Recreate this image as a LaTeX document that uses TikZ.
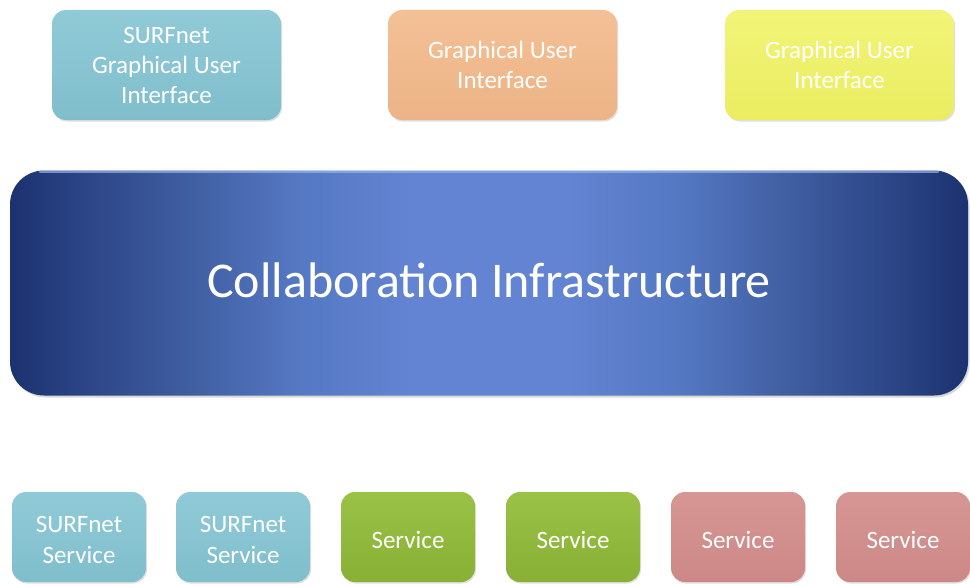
\documentclass[tikz,border=0pt]{standalone}
\usepackage{fontspec}
\setmainfont{Carlito}
\usetikzlibrary{shadows}
\definecolor{tealtop}{RGB}{144,202,215}
\definecolor{tealbot}{RGB}{128,190,204}
\definecolor{orangetop}{RGB}{244,192,150}
\definecolor{orangebot}{RGB}{236,180,134}
\definecolor{yellowtop}{RGB}{242,244,120}
\definecolor{yellowbot}{RGB}{234,237,96}
\definecolor{greentop}{RGB}{154,194,70}
\definecolor{greenbot}{RGB}{136,176,52}
\definecolor{redtop}{RGB}{214,150,148}
\definecolor{redbot}{RGB}{204,136,134}
\definecolor{bluedark}{RGB}{28,50,112}
\definecolor{bluemidA}{RGB}{46,72,137}
\definecolor{bluemidB}{RGB}{66,97,165}
\definecolor{bluemidC}{RGB}{85,120,195}
\definecolor{bluelight}{RGB}{98,132,210}
\definecolor{bluehigh}{RGB}{150,180,238}
\pgfdeclarehorizontalshading{infrashade}{100bp}{color(0bp)=(bluedark); color(25bp)=(bluedark); color(29.5bp)=(bluemidA); color(35bp)=(bluemidB); color(40bp)=(bluemidC); color(46bp)=(bluelight); color(54bp)=(bluelight); color(60bp)=(bluemidC); color(65bp)=(bluemidB); color(70.5bp)=(bluemidA); color(75bp)=(bluedark); color(100bp)=(bluedark)}
\tikzset{
  boxbase/.style={rectangle, rounded corners=14pt,
    drop shadow={shadow xshift=1pt, shadow yshift=-1.5pt, opacity=0.25}},
  topbox/.style={boxbase, minimum width=229pt, minimum height=110pt},
  botbox/.style={boxbase, minimum width=134pt, minimum height=90pt},
  lbl/.style={align=center, text=white, inner sep=0pt, font=\fontsize{25}{30}\selectfont},
  botlbl/.style={lbl, font=\fontsize{25}{31}\selectfont},
  biglbl/.style={lbl, font=\fontsize{50}{56}\selectfont},
  tealbox/.style={top color=tealtop, bottom color=tealbot},
  orangebox/.style={top color=orangetop, bottom color=orangebot},
  yellowbox/.style={top color=yellowtop, bottom color=yellowbot},
  greenbox/.style={top color=greentop, bottom color=greenbot},
  redbox/.style={top color=redtop, bottom color=redbot},
  bigbox/.style={rectangle, rounded corners=34pt, minimum width=958pt, minimum height=225pt,
    shading=infrashade,
    drop shadow={shadow xshift=1.5pt, shadow yshift=-2pt, opacity=0.3}}
}
\begin{document}
\begin{tikzpicture}[x=1pt,y=-1pt]
\useasboundingbox (0,0) rectangle (970,586);
\node[topbox,tealbox] (gui1) at (166.5,65) {};
\node[topbox,orangebox] (gui2) at (502.5,65) {};
\node[topbox,yellowbox] (gui3) at (839.5,65) {};
\node[lbl] (gui1t) at (gui1.center) {SURFnet\\Graphical User\\Interface};
\node[lbl] (gui2t) at (gui2.center) {Graphical User\\Interface};
\node[lbl] (gui3t) at (gui3.center) {Graphical User\\Interface};
\node[bigbox] (infra) at (489,283) {};
\draw[bluehigh, line width=2pt, line cap=round, opacity=0.7]
  ([xshift=30pt,yshift=-1.5pt]infra.north west) -- ([xshift=-30pt,yshift=-1.5pt]infra.north east);
\node[biglbl] (infrat) at ([yshift=3pt]infra.center) {Collaboration Infrastructure};
\node[botbox,tealbox] (s1) at (79,537) {};
\node[botbox,tealbox] (s2) at (243,537) {};
\node[botbox,greenbox] (s3) at (408,537) {};
\node[botbox,greenbox] (s4) at (573,537) {};
\node[botbox,redbox] (s5) at (738,537) {};
\node[botbox,redbox] (s6) at (903,537) {};
\node[botlbl] (s1t) at ([yshift=-3pt]s1.center) {SURFnet\\Service};
\node[botlbl] (s2t) at ([yshift=-3pt]s2.center) {SURFnet\\Service};
\node[botlbl] (s3t) at ([yshift=-3pt]s3.center) {Service};
\node[botlbl] (s4t) at ([yshift=-3pt]s4.center) {Service};
\node[botlbl] (s5t) at ([yshift=-3pt]s5.center) {Service};
\node[botlbl] (s6t) at ([yshift=-3pt]s6.center) {Service};
\end{tikzpicture}
\end{document}
